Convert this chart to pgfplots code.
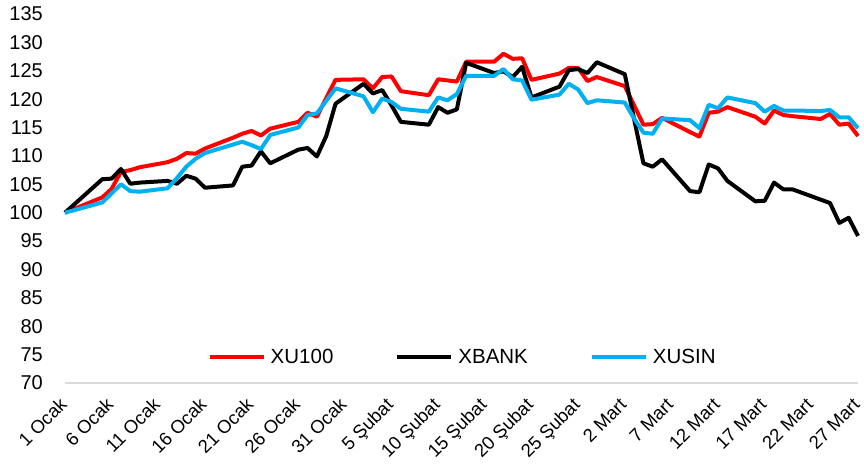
\documentclass[border=0pt]{standalone}
\usepackage{pgfplots}
\usepackage{pgfplotstable}
\pgfplotsset{compat=1.18}
\usepackage{fontspec}
\setmainfont{Liberation Sans}
\definecolor{xred}{RGB}{255,0,0}
\definecolor{xblue}{RGB}{0,176,240}
\definecolor{axgray}{RGB}{217,217,217}

\pgfplotstableread{
day val
0 100
4 102.7
5 104.2
6 107.2
7 107.5
8 108.0
11 108.9
12 109.5
13 110.5
14 110.4
15 111.3
18 113.2
19 113.9
20 114.4
21 113.6
22 114.8
25 116.0
26 117.6
27 116.9
28 120.2
29 123.4
32 123.5
33 121.9
34 123.9
35 124.0
36 121.4
39 120.7
40 123.5
41 123.3
42 123.1
43 126.6
46 126.6
47 128.0
48 127.1
49 127.2
50 123.4
53 124.5
54 125.5
55 125.5
56 123.2
57 123.9
60 122.3
61 118.9
62 115.5
63 115.6
64 116.7
67 114.2
68 113.4
69 117.6
70 117.8
71 118.6
74 116.9
75 115.7
76 118.0
77 117.2
78 117.0
81 116.5
82 117.4
83 115.5
84 115.7
85 113.5
}\xuhundred

\pgfplotstableread{
day val
0 100
4 105.9
5 106.0
6 107.7
7 105.1
8 105.3
11 105.6
12 105.1
13 106.5
14 106.0
15 104.4
18 104.8
19 108.1
20 108.3
21 110.8
22 108.7
25 111.1
26 111.4
27 109.9
28 113.5
29 119.2
32 122.7
33 121.0
34 121.6
35 118.9
36 116.0
39 115.5
40 118.6
41 117.6
42 118.2
43 126.4
46 124.6
47 124.9
48 123.9
49 125.7
50 120.3
53 122.2
54 125.1
55 125.3
56 124.6
57 126.5
60 124.4
61 116.5
62 108.7
63 108.1
64 109.4
67 103.8
68 103.6
69 108.5
70 107.8
71 105.6
74 102.0
75 102.1
76 105.3
77 104.1
78 104.1
81 102.3
82 101.7
83 98.2
84 99.1
85 95.9
}\xbank

\pgfplotstableread{
day val
0 100
4 101.8
5 103.4
6 105.0
7 103.8
8 103.7
11 104.3
12 106.1
13 108.1
14 109.5
15 110.5
18 112.0
19 112.5
20 111.9
21 111.2
22 113.7
25 115.0
26 117.2
27 117.5
28 119.7
29 121.9
32 120.5
33 117.7
34 120.1
35 119.5
36 118.3
39 117.8
40 120.3
41 119.8
42 120.9
43 124.1
46 124.1
47 125.3
48 123.5
49 123.3
50 119.9
53 120.8
54 122.7
55 121.7
56 119.3
57 119.8
60 119.4
61 116.6
62 114.1
63 113.9
64 116.6
67 116.3
68 114.9
69 119.0
70 118.4
71 120.3
74 119.3
75 117.8
76 118.8
77 118.0
78 118.0
81 117.9
82 118.1
83 116.8
84 116.8
85 114.9
}\xusin

\begin{document}
\begin{tikzpicture}
\begin{axis}[
  at={(0pt,0pt)}, anchor=south west,
  scale only axis, width=793pt, height=369pt,
  xmin=0, xmax=85, ymin=70, ymax=135,
  clip=false,
  axis x line*=bottom, axis y line*=left,
  x axis line style={draw=axgray, line width=1.2pt, -},
  y axis line style={draw=none, -},
  major tick length=0pt,
  ytick={70,75,...,135},
  xtick={0,5,...,85},
  xticklabels={1 Ocak,6 Ocak,11 Ocak,16 Ocak,21 Ocak,26 Ocak,31 Ocak,5 Şubat,10 Şubat,15 Şubat,20 Şubat,25 Şubat,2 Mart,7 Mart,12 Mart,17 Mart,22 Mart,27 Mart},
  yticklabel style={font=\fontsize{20}{24}\selectfont, anchor=east, inner sep=0pt, xshift=-22pt},
  xticklabel style={font=\fontsize{18.5}{22}\selectfont, inner sep=0pt, xshift=3pt, yshift=-23pt, rotate=45, anchor=base east},
  /pgf/number format/assume math mode=true,
  every axis plot/.append style={line width=4pt, line join=round},
  legend columns=3,
  legend image code/.code={\draw[#1, line cap=butt] (0pt,0pt) -- (54pt,0pt);},
  legend style={at={(axis cs:15.3,74.6)}, anchor=west, draw=none, fill=none,
    inner sep=0pt, outer sep=0pt, font=\fontsize{20.5}{24}\selectfont,
    nodes={inner sep=0pt},
    /tikz/every odd column/.append style={column sep=5pt},
    /tikz/every even column/.append style={column sep=62pt}},
  legend cell align=left,
]
\addplot[xred] table[x=day,y=val] {\xuhundred};
\addlegendentry{XU100}
\addplot[black] table[x=day,y=val] {\xbank};
\addlegendentry{XBANK}
\addplot[xblue] table[x=day,y=val] {\xusin};
\addlegendentry{XUSIN}
\end{axis}
\pgfresetboundingbox
\path[use as bounding box] (-65pt,-83pt) rectangle (799pt,383pt);
\end{tikzpicture}
\end{document}
